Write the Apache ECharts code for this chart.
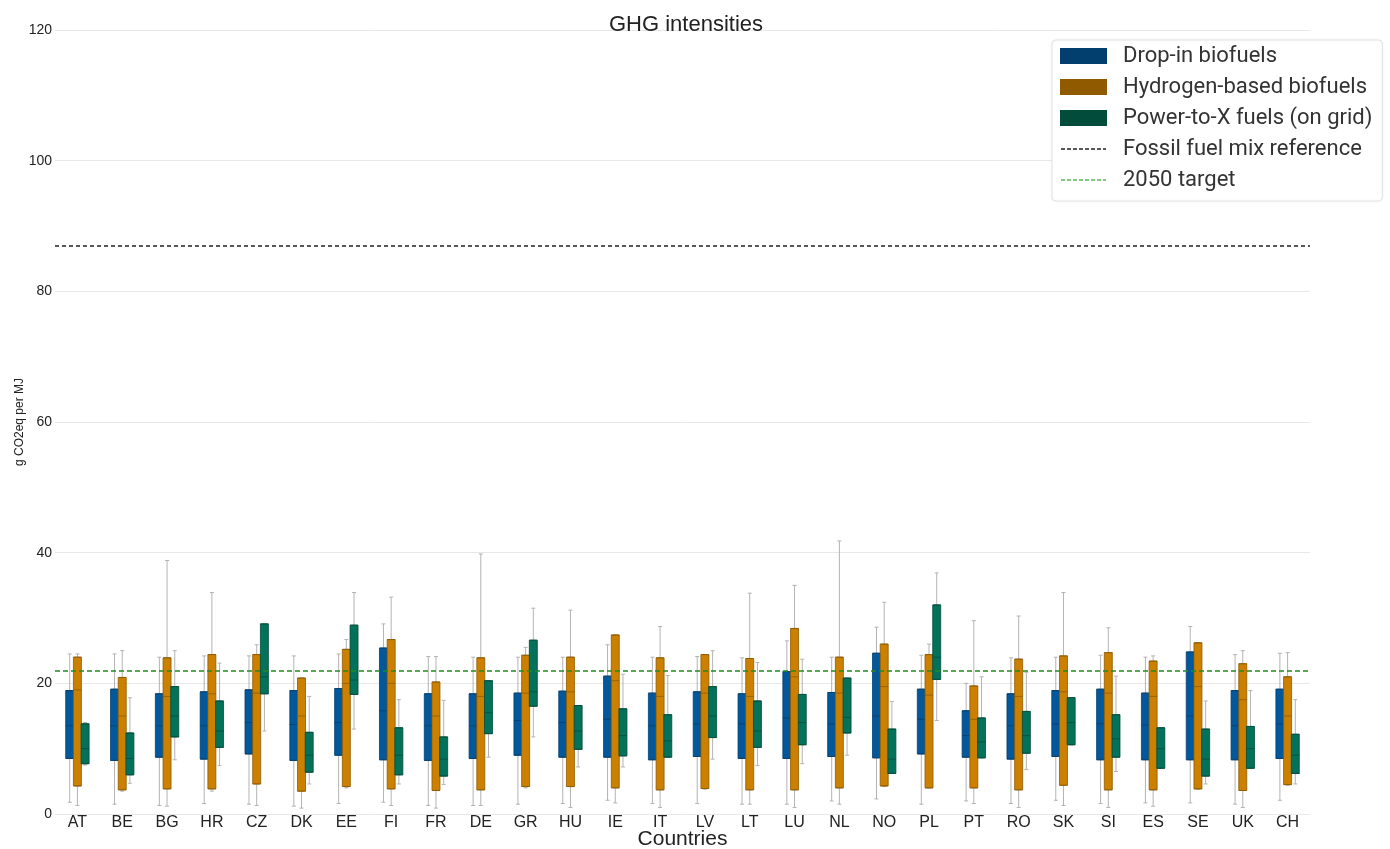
<!DOCTYPE html>
<html>
<head>
<meta charset="utf-8">
<title>GHG intensities</title>
<script src="https://cdn.jsdelivr.net/npm/echarts@6/dist/echarts.min.js"></script>
<style>
  html, body { margin: 0; padding: 0; background: #ffffff; }
  #chart { width: 1390px; height: 849px; }
</style>
</head>
<body>
<div id="chart"></div>
<script>
// Countries on the category axis
const countries = ['AT', 'BE', 'BG', 'HR', 'CZ', 'DK', 'EE', 'FI', 'FR', 'DE', 'GR', 'HU', 'IE', 'IT',
  'LV', 'LT', 'LU', 'NL', 'NO', 'PL', 'PT', 'RO', 'SK', 'SI', 'ES', 'SE', 'UK', 'CH'];

// Box statistics per country: [min, Q1, median, Q3, max] in g CO2eq per MJ
const dropIn = [
  [1.8, 8.5, 13.5, 18.9, 24.5], [1.5, 8.2, 13.5, 19.1, 24.5], [1.3, 8.7, 13.5, 18.4, 24.0],
  [1.6, 8.4, 13.5, 18.7, 24.2], [1.5, 9.2, 14.0, 19.0, 24.2], [1.2, 8.2, 13.7, 18.9, 24.2],
  [1.6, 9.0, 14.0, 19.2, 24.5], [1.8, 8.3, 15.8, 25.4, 29.1], [1.3, 8.2, 13.5, 18.4, 24.1],
  [1.3, 8.5, 13.5, 18.4, 24.0], [1.5, 9.0, 14.3, 18.5, 24.0], [1.6, 8.7, 14.0, 18.8, 24.0],
  [2.1, 8.7, 14.5, 21.1, 25.9], [1.6, 8.3, 13.5, 18.5, 24.0], [1.6, 8.8, 13.8, 18.7, 24.1],
  [1.5, 8.5, 13.8, 18.4, 23.9], [1.5, 8.5, 14.7, 21.8, 26.5], [2.0, 8.8, 13.8, 18.6, 24.0],
  [2.3, 8.6, 15.0, 24.6, 28.6], [1.5, 9.2, 14.5, 19.1, 24.3], [2.0, 8.7, 12.0, 15.8, 20.0],
  [1.6, 8.4, 13.5, 18.4, 23.9], [2.1, 8.8, 13.8, 18.9, 24.0], [1.6, 8.3, 13.8, 19.1, 24.3],
  [1.7, 8.3, 13.6, 18.5, 24.0], [1.7, 8.3, 15.0, 24.8, 28.7], [1.5, 8.3, 13.5, 18.9, 24.4],
  [2.1, 8.5, 13.8, 19.1, 24.6]
];

const hydrogen = [
  [1.3, 4.3, 19.0, 24.0, 24.5], [3.5, 3.7, 15.0, 20.9, 25.0], [1.2, 3.85, 18.0, 23.9, 38.8],
  [3.5, 3.85, 18.4, 24.4, 33.9], [1.3, 4.6, 18.5, 24.4, 25.9], [0.9, 3.5, 15.0, 20.8, 20.8],
  [4.0, 4.2, 20.0, 25.2, 26.7], [1.3, 3.85, 20.0, 26.7, 33.2], [0.9, 3.6, 15.0, 20.2, 24.1],
  [1.3, 3.7, 18.0, 23.9, 39.8], [4.0, 4.2, 18.5, 24.3, 25.5], [1.0, 4.2, 18.7, 24.0, 31.2],
  [1.7, 4.0, 20.4, 27.4, 27.4], [1.0, 3.7, 18.0, 23.9, 28.7], [3.8, 3.9, 18.5, 24.4, 24.4],
  [1.5, 3.7, 18.0, 23.8, 33.8], [1.0, 3.7, 21.0, 28.4, 35.0], [1.5, 4.0, 18.5, 24.0, 41.8],
  [4.2, 4.3, 19.5, 26.0, 32.4], [4.0, 4.0, 18.2, 24.4, 26.0], [1.6, 4.0, 14.5, 19.6, 29.6],
  [1.0, 3.7, 18.0, 23.7, 30.3], [1.3, 4.4, 18.7, 24.2, 33.9], [1.0, 3.7, 18.5, 24.7, 28.5],
  [1.2, 3.7, 18.0, 23.4, 24.2], [3.8, 3.85, 19.5, 26.2, 26.2], [1.0, 3.6, 17.5, 23.0, 25.0],
  [4.4, 4.5, 15.0, 21.0, 24.7]
];

const powerToX = [
  [7.5, 7.7, 10.0, 13.8, 14.0], [4.7, 6.0, 8.5, 12.4, 17.8], [8.3, 11.8, 15.0, 19.5, 25.0],
  [7.4, 10.2, 12.7, 17.3, 23.1], [12.7, 18.4, 21.0, 29.1, 29.1], [4.6, 6.4, 9.0, 12.5, 18.0],
  [13.0, 18.3, 20.5, 28.9, 33.9], [4.6, 6.0, 9.0, 13.2, 17.5], [4.5, 5.8, 8.4, 11.8, 17.4],
  [8.7, 12.3, 15.5, 20.4, 20.4], [11.8, 16.5, 18.7, 26.6, 31.5], [7.2, 9.9, 12.7, 16.6, 16.6],
  [7.2, 8.9, 12.0, 16.1, 21.4], [8.7, 8.7, 11.2, 15.2, 21.2], [8.4, 11.7, 15.0, 19.5, 25.0],
  [7.4, 10.2, 12.7, 17.3, 23.2], [7.7, 10.6, 14.0, 18.3, 23.7], [9.0, 12.4, 14.8, 20.8, 20.8],
  [6.2, 6.2, 8.4, 13.0, 17.2], [14.3, 20.6, 24.0, 32.0, 36.9], [8.6, 8.6, 11.0, 14.7, 21.0],
  [6.8, 9.3, 12.0, 15.7, 21.7], [10.6, 10.6, 14.0, 17.8, 17.8], [6.5, 8.7, 11.5, 15.2, 21.1],
  [7.0, 7.0, 10.0, 13.2, 13.2], [4.6, 5.8, 8.4, 13.0, 17.3], [7.0, 7.0, 10.0, 13.4, 18.9],
  [4.6, 6.2, 9.0, 12.2, 17.5]
];

// Reference levels
const fossilReference = 87;
const target2050 = 22;

const FONT = '"Liberation Sans", Arial, sans-serif';
const PLOT = { left: 55, right: 80, top: 30, bottom: 35 };
const SHIFT = 7.7; // side-by-side offset of the three boxes within a country

const groups = [
  { name: 'Drop-in biofuels', data: dropIn, fill: '#03589c', edge: '#023f6e', shift: -SHIFT },
  { name: 'Hydrogen-based biofuels', data: hydrogen, fill: '#cc8000', edge: '#8f5a00', shift: 0 },
  { name: 'Power-to-X fuels (on grid)', data: powerToX, fill: '#04715a', edge: '#014c3b', shift: SHIFT }
];

// Each boxplot series gets its own grid/axes so that no automatic
// side-by-side offsetting happens; the shift places it in the country band.
const layers = [];
groups.forEach(g => {
  layers.push({ kind: 'whisker', group: g });
  layers.push({ kind: 'box', group: g });
});
const MAIN = 3; // the Hydrogen-based box layer carries the visible axes

const grids = layers.map(l => ({
  left: PLOT.left + l.group.shift,
  right: PLOT.right - l.group.shift,
  top: PLOT.top,
  bottom: PLOT.bottom,
  outerBoundsMode: 'none'
}));

const xAxes = layers.map((l, i) => ({
  type: 'category',
  gridIndex: i,
  data: countries,
  show: i === MAIN,
  name: i === MAIN ? 'Countries' : '',
  nameLocation: 'middle',
  nameGap: 15,
  nameMoveOverlap: false,
  nameTextStyle: { fontFamily: FONT, fontSize: 21, color: '#222', verticalAlign: 'top' },
  axisLine: { show: false },
  axisTick: { show: false },
  axisLabel: { fontFamily: FONT, fontSize: 16, color: '#222', margin: 1 },
  splitLine: { show: false }
}));

const yAxes = layers.map((l, i) => ({
  type: 'value',
  gridIndex: i,
  min: 0,
  max: 120,
  interval: 20,
  show: i === MAIN,
  name: i === MAIN ? 'g CO2eq per MJ' : '',
  nameLocation: 'middle',
  nameGap: 29,
  nameMoveOverlap: false,
  nameRotate: 90,
  nameTextStyle: { fontFamily: FONT, fontSize: 12, color: '#222' },
  axisLine: { show: false },
  axisTick: { show: false },
  axisLabel: { fontFamily: FONT, fontSize: 14, color: '#222', margin: 3 },
  splitLine: { show: i === MAIN, lineStyle: { color: '#e8e8e8', width: 1 } }
}));

const series = layers.map((l, i) => {
  const g = l.group;
  if (l.kind === 'whisker') {
    // Whiskers and caps
    return {
      type: 'boxplot',
      name: g.name + ' whiskers',
      xAxisIndex: i,
      yAxisIndex: i,
      boxWidth: [4, 4],
      z: 2,
      silent: true,
      itemStyle: { color: 'rgba(0,0,0,0)', borderColor: '#b3b3b3', borderWidth: 1 },
      emphasis: { disabled: true },
      data: g.data
    };
  }
  // Interquartile box with median
  return {
    type: 'boxplot',
    name: g.name,
    xAxisIndex: i,
    yAxisIndex: i,
    boxWidth: [8, 8],
    z: 3,
    silent: true,
    itemStyle: { color: g.fill, borderColor: g.edge, borderWidth: 0.8 },
    emphasis: { disabled: true },
    data: g.data.map(r => [r[1], r[1], r[2], r[3], r[3]])
  };
});

// Horizontal reference lines
function referenceLine(name, value, color, dash) {
  return {
    type: 'line',
    name: name,
    xAxisIndex: MAIN,
    yAxisIndex: MAIN,
    data: [],
    symbol: 'none',
    itemStyle: { color: color },
    lineStyle: { color: color, type: dash, width: 1.5 },
    markLine: {
      silent: true,
      symbol: ['none', 'none'],
      label: { show: false },
      lineStyle: { color: color, type: dash, width: 1.5 },
      data: [{ yAxis: value }]
    },
    z: 4
  };
}
series.push(referenceLine('Fossil fuel mix reference', fossilReference, '#222222', [4, 3]));
series.push(referenceLine('2050 target', target2050, '#1f8c1f', [5, 3]));

const chart = echarts.init(document.getElementById('chart'), null, { renderer: 'canvas' });
chart.setOption({
  animation: false,
  backgroundColor: '#ffffff',
  title: {
    text: 'GHG intensities',
    left: 604,
    top: 9,
    textStyle: { fontFamily: FONT, fontSize: 22, fontWeight: 'normal', color: '#222' }
  },
  legend: {
    left: 1052,
    top: 40,
    orient: 'vertical',
    padding: [5, 10, 10, 8],
    itemWidth: 45,
    itemHeight: 14,
    itemGap: 9,
    backgroundColor: '#ffffff',
    borderColor: '#e4e4e4',
    borderWidth: 1,
    borderRadius: 4,
    shadowBlur: 3,
    shadowColor: 'rgba(0,0,0,0.06)',
    selectedMode: false,
    textStyle: { fontFamily: 'Roboto, "Liberation Sans", sans-serif', fontSize: 22, color: '#333', lineHeight: 22, padding: [0, 0, 0, 12] },
    data: [
      { name: 'Drop-in biofuels', icon: 'rect' },
      { name: 'Hydrogen-based biofuels', icon: 'rect' },
      { name: 'Power-to-X fuels (on grid)', icon: 'rect' },
      { name: 'Fossil fuel mix reference', itemStyle: { opacity: 0 }, lineStyle: { type: [4, 2], width: 1.5 } },
      { name: '2050 target', itemStyle: { opacity: 0 }, lineStyle: { type: [4, 2], width: 1.5, color: '#5cb85c' } }
    ]
  },
  grid: grids,
  xAxis: xAxes,
  yAxis: yAxes,
  series: series
});
</script>
</body>
</html>
